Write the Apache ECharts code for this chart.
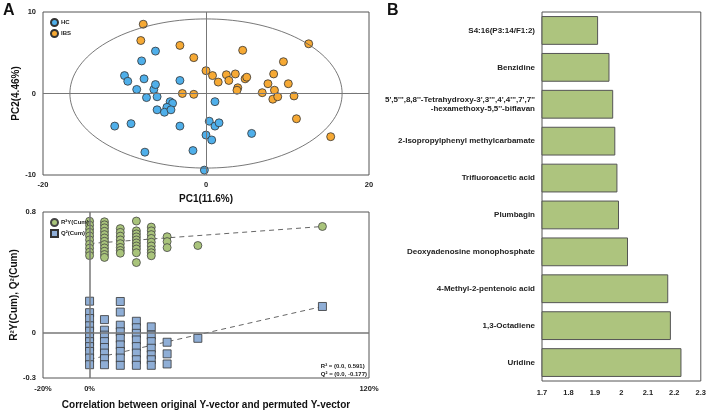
<!DOCTYPE html>
<html>
<head>
<meta charset="utf-8">
<script src="https://cdn.jsdelivr.net/npm/echarts@6/dist/echarts.min.js"></script>
<style>
html,body{margin:0;padding:0;background:#fff;}
#main{width:709px;height:411px;}
</style>
</head>
<body>
<div id="main"></div>
<script>
// PCA scores
const hcPoints = [[-10.0,2.2],[-9.6,1.5],[-7.9,4.0],[-6.2,5.2],[-8.5,0.5],[-7.6,1.8],[-7.3,-0.5],[-6.4,0.5],[-6.2,1.1],[-6.0,-0.4],[-4.4,-1.0],[-4.1,-1.2],[-4.8,-1.7],[-6.0,-2.0],[-5.1,-2.3],[-4.3,-2.0],[-3.2,1.6],[-11.2,-4.0],[-9.2,-3.7],[-3.2,-4.0],[-7.5,-7.2],[-1.6,-7.0],[-0.2,-9.4],[1.1,-1.0],[0.4,-3.4],[1.1,-4.0],[1.6,-3.6],[0.0,-5.1],[0.7,-5.7],[5.6,-4.9]];
const ibsPoints = [[-7.7,8.5],[-8.0,6.5],[-3.2,5.9],[-1.5,4.4],[0.0,2.8],[0.8,2.2],[1.5,1.4],[-2.9,0.0],[-1.5,-0.1],[2.5,2.3],[2.8,1.6],[3.6,2.4],[3.9,0.7],[3.8,0.4],[4.8,1.8],[5.0,2.0],[4.5,5.3],[6.9,0.1],[7.6,1.2],[8.3,2.4],[8.4,0.4],[8.2,-0.7],[8.8,-0.4],[9.5,3.9],[10.1,1.2],[10.8,-0.3],[12.6,6.1],[11.1,-3.1],[15.3,-5.3]];
const ellipseRx = 16.7, ellipseRy = 9.15;

// permutation test
const permX = [0, 6.4, 13.2, 20.1, 26.5, 33.3, 46.5];
const r2Perm = [
  [0.739,0.713,0.687,0.665,0.641,0.615,0.586,0.560,0.534,0.511],
  [0.735,0.715,0.695,0.672,0.650,0.628,0.606,0.584,0.562,0.540,0.518,0.499],
  [0.690,0.665,0.640,0.615,0.590,0.565,0.545,0.527],
  [0.740,0.675,0.655,0.635,0.615,0.595,0.575,0.555,0.530,0.465],
  [0.700,0.675,0.650,0.625,0.600,0.575,0.550,0.530,0.510],
  [0.636,0.604,0.564],
  [0.578]
];
const q2Perm = [
  [0.209,0.133,0.094,0.046,0.010,-0.026,-0.059,-0.092,-0.124,-0.168,-0.212],
  [0.087,0.017,-0.016,-0.059,-0.098,-0.135,-0.172,-0.212],
  [0.207,0.137,0.050,0.006,-0.037,-0.081,-0.124,-0.168,-0.216],
  [0.076,0.033,-0.004,-0.048,-0.092,-0.135,-0.179,-0.216],
  [0.039,-0.016,-0.059,-0.103,-0.146,-0.179,-0.216],
  [-0.063,-0.140,-0.207],
  [-0.037]
];
const origX = 100;
const r2Orig = 0.704, q2Orig = 0.174;
const r2Intercept = 0.591, q2Intercept = -0.177;

// VIP bars
const metabolites = ['S4:16(P3:14/F1:2)','Benzidine',"5',5''',8,8''-Tetrahydroxy-3',3''',4',4''',7',7''\n-hexamethoxy-5,5''-biflavan",'2-Isopropylphenyl methylcarbamate','Trifluoroacetic acid','Plumbagin','Deoxyadenosine monophosphate','4-Methyl-2-pentenoic acid','1,3-Octadiene','Uridine'];
const vipValues = [1.912,1.955,1.969,1.977,1.985,1.991,2.025,2.177,2.187,2.227];

const ellipsePts = [];
for (let i = 0; i <= 160; i++) {
  const t = i / 160 * 2 * Math.PI;
  ellipsePts.push([ellipseRx * Math.cos(t), ellipseRy * Math.sin(t)]);
}
let r2Data = [], q2Data = [];
permX.forEach((x, i) => {
  r2Perm[i].forEach(v => r2Data.push([x, v]));
  q2Perm[i].forEach(v => q2Data.push([x, v]));
});
r2Data.push([origX, r2Orig]);
q2Data.push([origX, q2Orig]);

const font = "'Liberation Sans', Arial, sans-serif";
const tickLabel = {fontSize: 7.5, fontWeight: 'bold', color: '#222', fontFamily: font};
const nameStyle = {fontSize: 10, fontWeight: 'bold', color: '#111', fontFamily: font};
const border = '#555';

let chart = echarts.init(document.getElementById('main'));
const option = {
  animation: false,
  textStyle: {fontFamily: font},
  grid: [
    {left: 43, top: 12, width: 326, height: 163, show: true, borderColor: border, borderWidth: 1},
    {left: 43, top: 212, width: 326, height: 169, show: true, borderColor: border, borderWidth: 1},
    {left: 542, top: 12, width: 160, height: 369, show: true, borderColor: border, borderWidth: 1}
  ],
  legend: [
    {data: ['HC', 'IBS'], orient: 'vertical', left: 45, top: 13, itemWidth: 7, itemHeight: 7, itemGap: 2,
     textStyle: {fontSize: 6, fontWeight: 'bold', color: '#222', padding: [0, 0, 0, -2]}},
    {data: ['R²Y(Cum)', 'Q²(Cum)'], orient: 'vertical', left: 45, top: 213, itemWidth: 7, itemHeight: 7, itemGap: 2,
     textStyle: {fontSize: 6, fontWeight: 'bold', color: '#222', padding: [0, 0, 0, -2]}}
  ],
  xAxis: [
    {gridIndex: 0, type: 'value', min: -20, max: 20, interval: 20, splitLine: {show: false},
     axisLine: {show: false}, axisTick: {show: false}, axisLabel: Object.assign({margin: 6}, tickLabel),
     name: 'PC1(11.6%)', nameLocation: 'middle', nameGap: 19, nameTextStyle: nameStyle},
    {gridIndex: 1, type: 'value', min: -20, max: 120, interval: 20, splitLine: {show: false},
     axisLine: {show: false}, axisTick: {show: false},
     axisLabel: Object.assign({margin: 7, formatter: v => (v === -20 || v === 0 || v === 120) ? v + '%' : ''}, tickLabel),
     name: 'Correlation between original Y-vector and permuted Y-vector', nameLocation: 'middle', nameGap: 22, nameTextStyle: nameStyle},
    {gridIndex: 2, type: 'value', min: 1.7, max: 2.3, interval: 0.1, splitLine: {show: false},
     axisLine: {show: false}, axisTick: {show: false},
     axisLabel: Object.assign({margin: 8, formatter: v => String(+(+v).toFixed(1))}, tickLabel)}
  ],
  yAxis: [
    {gridIndex: 0, type: 'value', min: -10, max: 10, interval: 10, splitLine: {show: false},
     axisLine: {show: false}, axisTick: {show: false}, axisLabel: Object.assign({margin: 7}, tickLabel),
     name: 'PC2(4.46%)', nameLocation: 'middle', nameRotate: 90, nameGap: 18, nameTextStyle: nameStyle},
    {gridIndex: 1, type: 'value', min: -0.3, max: 0.8, interval: 0.1, splitLine: {show: false},
     axisLine: {show: false}, axisTick: {show: false},
     axisLabel: Object.assign({margin: 7, formatter: v => {
       if (Math.abs(v) < 1e-6) return '0';
       if (Math.abs(v - 0.8) < 1e-6) return '0.8';
       if (Math.abs(v + 0.3) < 1e-6) return '-0.3';
       return '';
     }}, tickLabel),
     name: 'R²Y(Cum), Q²(Cum)', nameLocation: 'middle', nameRotate: 90, nameGap: 17, nameTextStyle: nameStyle},
    {gridIndex: 2, type: 'category', data: metabolites, inverse: true,
     axisLine: {show: false}, axisTick: {show: false},
     axisLabel: Object.assign({}, tickLabel, {margin: 7, align: 'right', lineHeight: 9, fontSize: 8})}
  ],
  series: [
    {type: 'line', xAxisIndex: 0, yAxisIndex: 0, data: ellipsePts, showSymbol: false, silent: true,
     lineStyle: {color: '#555', width: 0.8},
     markLine: {silent: true, symbol: 'none', label: {show: false}, lineStyle: {color: '#777', type: 'solid', width: 1},
       data: [{xAxis: 0}, {yAxis: 0}]}},
    {name: 'HC', type: 'scatter', xAxisIndex: 0, yAxisIndex: 0, data: hcPoints, symbolSize: 8,
     itemStyle: {color: '#4FAFEA', borderColor: '#333', borderWidth: 0.8, opacity: 1}},
    {name: 'IBS', type: 'scatter', xAxisIndex: 0, yAxisIndex: 0, data: ibsPoints, symbolSize: 8,
     itemStyle: {color: '#F6A934', borderColor: '#333', borderWidth: 0.8, opacity: 1}},
    {type: 'line', xAxisIndex: 1, yAxisIndex: 1, data: [[0, r2Intercept], [origX, r2Orig]], showSymbol: false, silent: true,
     lineStyle: {color: '#666', width: 1, type: [5, 4]}, z: 1,
     markLine: {silent: true, symbol: 'none', label: {show: false}, lineStyle: {color: '#777', type: 'solid', width: 1.5},
       data: [{xAxis: 0}, {yAxis: 0}]}},
    {type: 'line', xAxisIndex: 1, yAxisIndex: 1, data: [[0, q2Intercept], [origX, q2Orig]], showSymbol: false, silent: true,
     lineStyle: {color: '#666', width: 1, type: [5, 4]}, z: 1},
    {name: 'R²Y(Cum)', type: 'scatter', xAxisIndex: 1, yAxisIndex: 1, data: r2Data, symbol: 'circle', symbolSize: 8,
     itemStyle: {color: '#A9C47B', borderColor: '#444', borderWidth: 0.8, opacity: 1}},
    {name: 'Q²(Cum)', type: 'scatter', xAxisIndex: 1, yAxisIndex: 1, data: q2Data, symbol: 'rect', symbolSize: 8,
     itemStyle: {color: '#8FAED6', borderColor: '#333', borderWidth: 0.8, opacity: 1}},
    {type: 'bar', xAxisIndex: 2, yAxisIndex: 2, data: vipValues, barWidth: '78%',
     itemStyle: {color: '#ADC47E', borderColor: '#555', borderWidth: 1}}
  ],
  graphic: [
    {type: 'text', left: 3, top: 3, style: {text: 'A', font: 'bold 16px ' + font, fill: '#111'}},
    {type: 'text', left: 387, top: 3, style: {text: 'B', font: 'bold 16px ' + font, fill: '#111'}},
    {type: 'text', right: 342, top: 362, style: {text: 'R² = (0.0, 0.591)\nQ² = (0.0, -0.177)', font: 'bold 6px ' + font, fill: '#222', align: 'right', lineHeight: 8}}
  ]
};
chart.setOption(option);
</script>
</body>
</html>
